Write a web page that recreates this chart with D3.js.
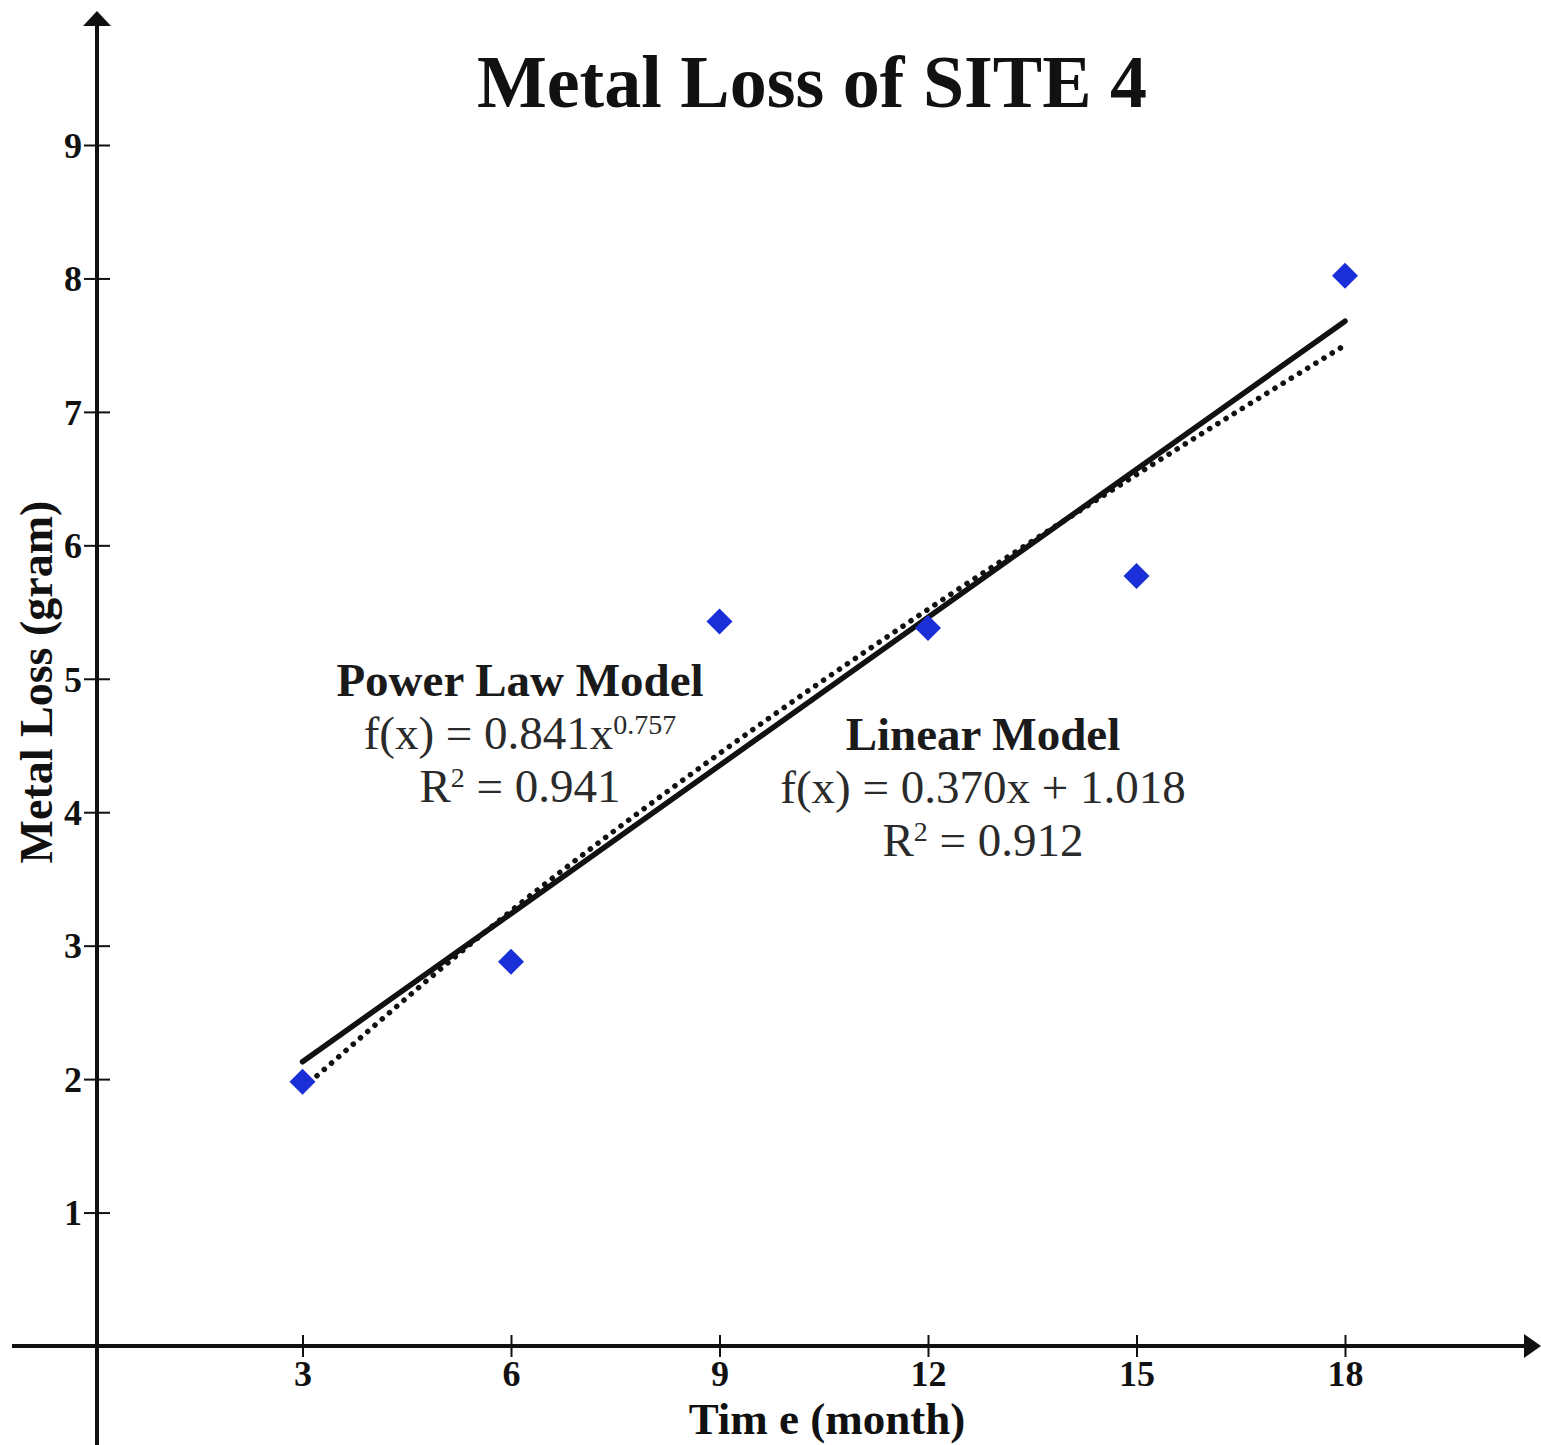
<!DOCTYPE html>
<html>
<head>
<meta charset="utf-8">
<script src="https://cdn.jsdelivr.net/npm/d3@7"></script>
<style>
  body { margin: 0; background: #fff; }
  text { font-family: "Liberation Serif", "Times New Roman", serif; }
</style>
</head>
<body>
<div id="chart-area"></div>
<script>
// datos
var months = [3, 6, 9, 12, 15, 18];
var metalLoss = [1.98, 2.88, 5.43, 5.38, 5.77, 8.02];

// modelo lineal (extremos leidos)
var linearX = [3, 18];
var linearY = [2.13, 7.68];

// modelo potencial (valores leidos a lo largo de la curva punteada)
var powerX = [3, 6, 9, 12, 15, 18];
var powerY = [1.93, 3.26, 4.44, 5.52, 6.53, 7.50];

var xTicks = [3, 6, 9, 12, 15, 18];
var yTicks = [1, 2, 3, 4, 5, 6, 7, 8, 9];

var W = 1541, H = 1445;

var svg = d3.select("#chart-area")
    .append("svg")
    .attr("width", W)
    .attr("height", H);

// escalas
var xScale = d3.scaleLinear().domain([0, 18]).range([94, 1345]);
var yScale = d3.scaleLinear().domain([0, 9]).range([1346, 145]);

var axisColor = "#111";

// eje Y con flecha
svg.append("line")
    .attr("x1", 97).attr("x2", 97)
    .attr("y1", 22).attr("y2", H)
    .attr("stroke", axisColor).attr("stroke-width", 4);
svg.append("path")
    .attr("d", "M83,26 L97,11 L111,26 Z")
    .attr("fill", axisColor);

// eje X con flecha
svg.append("line")
    .attr("x1", 12).attr("x2", 1528)
    .attr("y1", yScale(0)).attr("y2", yScale(0))
    .attr("stroke", axisColor).attr("stroke-width", 4);
svg.append("path")
    .attr("d", "M1524," + (yScale(0) - 12) + " L1541," + yScale(0) + " L1524," + (yScale(0) + 12) + " Z")
    .attr("fill", axisColor);

// marcas del eje Y
var yAxis = d3.axisLeft(yScale).tickValues(yTicks).tickSize(13);
var gy = svg.append("g")
    .attr("transform", "translate(97,0)")
    .call(yAxis);
gy.select(".domain").remove();
gy.selectAll(".tick line")
    .attr("x1", 13)
    .attr("x2", -13)
    .attr("stroke", axisColor).attr("stroke-width", 2);
gy.selectAll(".tick text")
    .attr("x", -15)
    .attr("dy", "0.34em")
    .style("font-family", "'Liberation Serif', serif")
    .style("font-size", "36px")
    .style("font-weight", "bold")
    .attr("fill", "#111");

// marcas del eje X
var xAxis = d3.axisBottom(xScale).tickValues(xTicks).tickSize(11);
var gx = svg.append("g")
    .attr("transform", "translate(0," + yScale(0) + ")")
    .call(xAxis);
gx.select(".domain").remove();
gx.selectAll(".tick line")
    .attr("y1", -11)
    .attr("y2", 11)
    .attr("stroke", axisColor).attr("stroke-width", 2);
gx.selectAll(".tick text")
    .attr("y", 40)
    .attr("dy", 0)
    .style("font-family", "'Liberation Serif', serif")
    .style("font-size", "36px")
    .style("font-weight", "bold")
    .attr("fill", "#111");

// titulo
svg.append("text")
    .attr("x", 812)
    .attr("y", 107)
    .attr("text-anchor", "middle")
    .style("font-size", "74px")
    .style("font-weight", "bold")
    .attr("fill", "#111")
    .text("Metal Loss of SITE 4");

// etiquetas de ejes
svg.append("text")
    .attr("x", 827)
    .attr("y", 1434)
    .attr("text-anchor", "middle")
    .style("font-size", "45px")
    .style("font-weight", "bold")
    .attr("fill", "#111")
    .text("Tim e (month)");

svg.append("text")
    .attr("transform", "translate(52,682) rotate(-90)")
    .attr("text-anchor", "middle")
    .style("font-size", "46px")
    .style("font-weight", "bold")
    .attr("fill", "#111")
    .text("Metal Loss (gram)");

// lineas de tendencia
var linearData = linearX.map(function(x, i) { return [x, linearY[i]]; });
var powerData = powerX.map(function(x, i) { return [x, powerY[i]]; });

var lineGen = d3.line()
    .x(function(d) { return xScale(d[0]); })
    .y(function(d) { return yScale(d[1]); })
    .curve(d3.curveMonotoneX);

svg.append("path")
    .datum(powerData)
    .attr("d", lineGen)
    .attr("fill", "none")
    .attr("stroke", "#111")
    .attr("stroke-width", 5.5)
    .attr("stroke-linecap", "round")
    .attr("stroke-dasharray", "0.1 9.5");

svg.append("path")
    .datum(linearData)
    .attr("d", lineGen)
    .attr("fill", "none")
    .attr("stroke", "#111")
    .attr("stroke-width", 5.5)
    .attr("stroke-linecap", "round");

// puntos (rombos azules)
svg.selectAll(".pt")
    .data(months)
    .enter().append("path")
    .attr("class", "pt")
    .attr("transform", function(d, i) {
        return "translate(" + xScale(d) + "," + yScale(metalLoss[i]) + ")";
    })
    .attr("d", "M0,-13 L13,0 L0,13 L-13,0 Z")
    .attr("fill", "#1a2fd8");

// anotaciones de los modelos
function annot(cx, y0, title, eq, r2, sup) {
    var g = svg.append("g");
    g.append("text")
        .attr("x", cx).attr("y", y0)
        .attr("text-anchor", "middle")
        .style("font-size", "47px")
        .style("font-weight", "bold")
        .attr("fill", "#1a1a1a")
        .text(title);
    var t = g.append("text")
        .attr("x", cx).attr("y", y0 + 53)
        .attr("text-anchor", "middle")
        .style("font-size", "47px")
        .attr("fill", "#2a2a2a");
    t.append("tspan").text(eq);
    if (sup) {
        t.append("tspan").attr("dy", -15).style("font-size", "28px").text(sup);
    }
    var r = g.append("text")
        .attr("x", cx).attr("y", y0 + 106)
        .attr("text-anchor", "middle")
        .style("font-size", "47px")
        .attr("fill", "#2a2a2a");
    r.append("tspan").text("R");
    r.append("tspan").attr("dy", -15).style("font-size", "28px").text("2");
    r.append("tspan").attr("dy", 15).text(" = " + r2);
}

annot(520, 696, "Power Law Model", "f(x) = 0.841x", "0.941", "0.757");
annot(983, 750, "Linear Model", "f(x) = 0.370x + 1.018", "0.912", null);
</script>
</body>
</html>
